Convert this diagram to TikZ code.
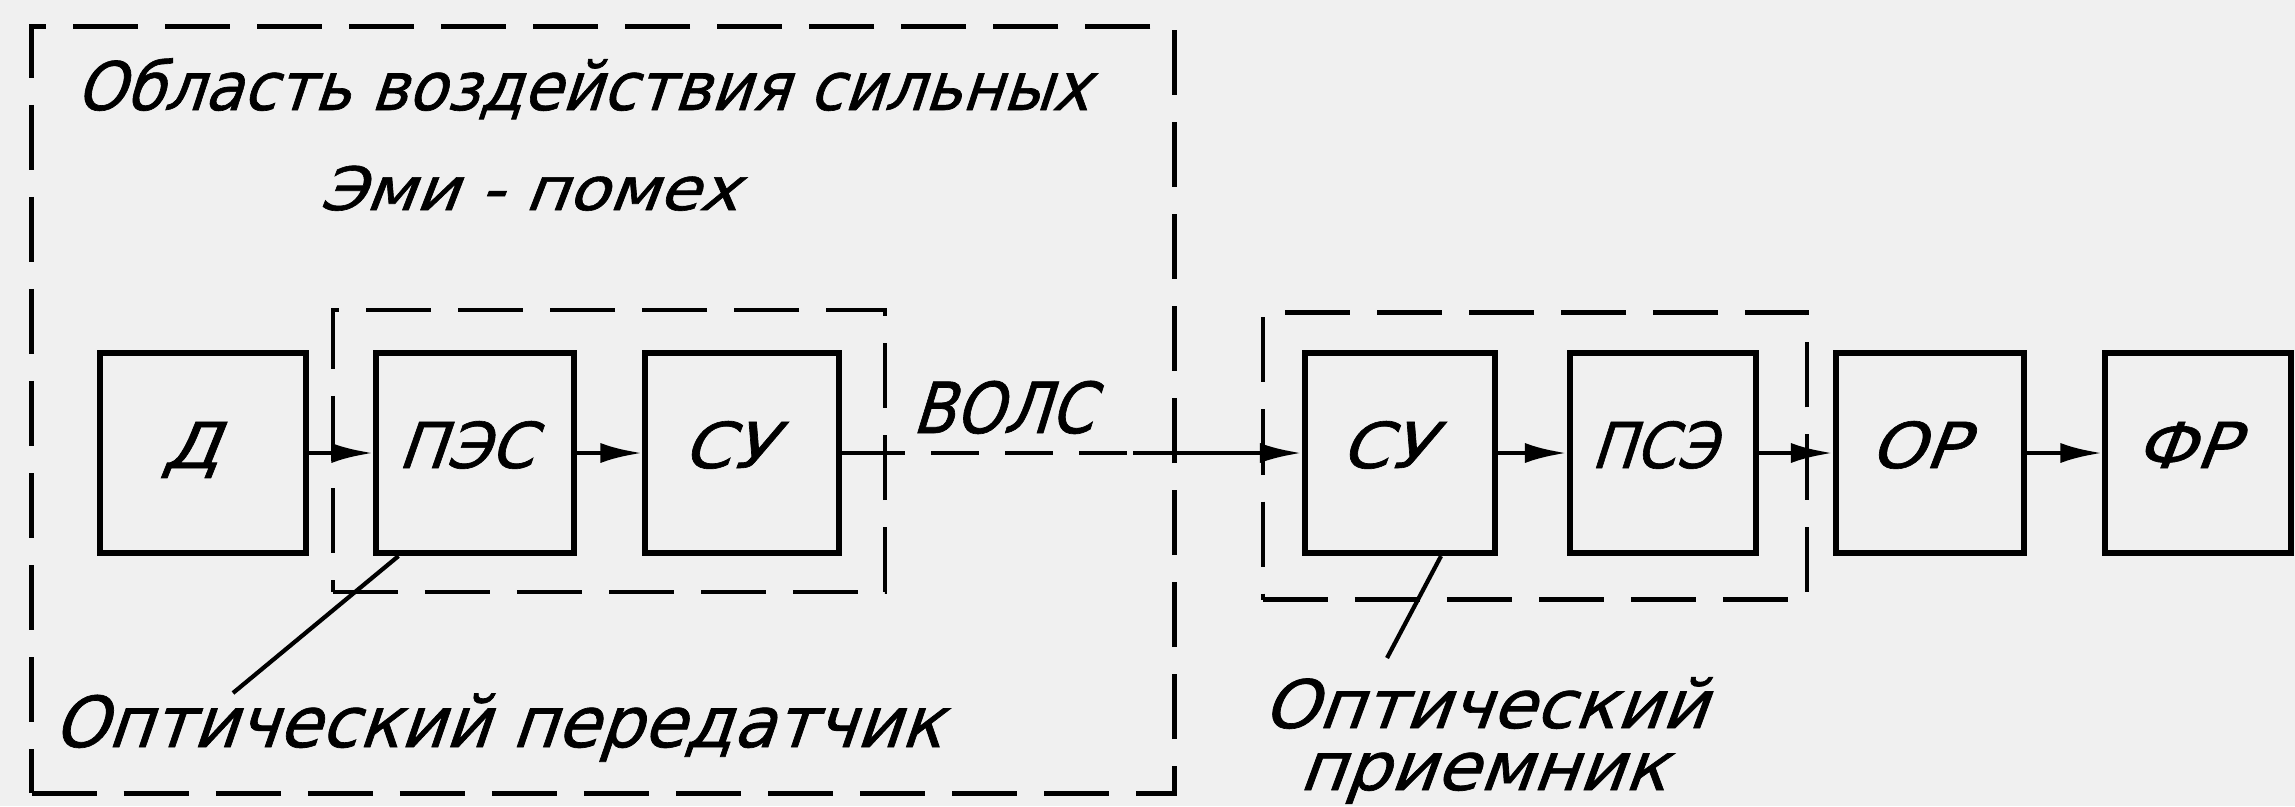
\documentclass[tikz,border=0pt]{standalone}
\usepackage{fontspec}
\usetikzlibrary{arrows.meta}
\newfontfamily\gost[FakeSlant=0.35,FakeBold=1]{DejaVu Sans}
\newcommand\gtxt[3]{{\gost\fontsize{#1}{#1}\selectfont\scalebox{#2}[1]{#3}}}
\definecolor{bg}{RGB}{240,240,240}
\begin{document}
\begin{tikzpicture}[x=0.01cm,y=-0.01cm,
  blk/.style={draw,line width=1.7pt,minimum height=2cm,inner sep=0pt,
    text height=0.4cm,text depth=0.1cm},
  grp/.style={draw,line width=1.3pt,dash pattern=on 0.65cm off 0.27cm,inner sep=0pt},
  conn/.style={line width=1.4pt,-{Latex[length=0.42cm,width=0.2cm]}},
  plain/.style={line width=1.4pt},
  fibre/.style={line width=1.3pt,dash pattern=on 0.48cm off 0.26cm,dash phase=0.48cm},
  leader/.style={line width=1.2pt},
  lbl/.style={anchor=base,inner sep=0pt}]
\fill[bg] (0,0) rectangle (2295,806);
\useasboundingbox (0,0) rectangle (2295,806);
% groups
\node[grp,minimum width=11.42cm,minimum height=7.66cm] (zone) at (603,410) {};
\node[grp,minimum width=5.52cm,minimum height=2.82cm] (tx) at (609,451) {};
\node[grp,minimum width=5.44cm,minimum height=2.87cm] (rx) at (1535,456) {};
% blocks
\node[blk,minimum width=2.06cm] (d) at (203,453) {\hspace*{-0.26cm}\gtxt{18}{1.15}{Д}};
\node[blk,minimum width=1.97cm] (pes) at (475,453) {\hspace*{-0.2cm}\gtxt{18}{1.0}{ПЭС}};
\node[blk,minimum width=1.93cm] (su1) at (742,453) {\hspace*{-0.3cm}\gtxt{18}{1.1}{СУ}};
\node[blk,minimum width=1.90cm] (su2) at (1400,453) {\hspace*{-0.3cm}\gtxt{18}{1.1}{СУ}};
\node[blk,minimum width=1.86cm] (pse) at (1663,453) {\hspace*{-0.2cm}\gtxt{18}{0.92}{ПСЭ}};
\node[blk,minimum width=1.88cm] (or) at (1930,453) {\hspace*{-0.26cm}\gtxt{18}{1.1}{ОР}};
\node[blk,minimum width=1.85cm] (fr) at (2198,453) {\hspace*{-0.26cm}\gtxt{18}{1.1}{ФР}};
% connectors
\draw[conn] (d.east) -- (pes.west);
\draw[conn] (pes.east) -- (su1.west);
\coordinate (w1) at (905,453);
\coordinate (w2) at (1133,453);
\draw[plain] (su1.east) -- (w1);
\draw[fibre] (w1) -- (w2);
\draw[conn] (w2) -- (su2.west);
\draw[conn] (su2.east) -- (pse.west);
\draw[conn] (pse.east) -- (or.west);
\draw[conn] (or.east) -- (fr.west);
% texts
\node[lbl] (t1) at (582,110) {\gtxt{19}{0.94}{Область воздействия сильных}};
\node[lbl] (t2) at (528,210) {\gtxt{17}{1.11}{Эми - помех}};
\node[lbl] (volc) at (1002,433) {\gtxt{20}{0.88}{ВОЛС}};
\node[lbl] (optx) at (497,747) {\gtxt{20}{0.98}{Оптический передатчик}};
\node[lbl] (oprx1) at (1484,728) {\gtxt{19}{1.05}{Оптический}};
\node[lbl] (oprx2) at (1482,790) {\gtxt{19}{1.055}{приемник}};
% leaders
\coordinate (l1) at (233,693);
\coordinate (l2) at (1387,658);
\draw[leader] ([xshift=0.25cm]pes.south west) -- (l1);
\draw[leader] ([xshift=-0.57cm]su2.south east) -- (l2);
\end{tikzpicture}
\end{document}
